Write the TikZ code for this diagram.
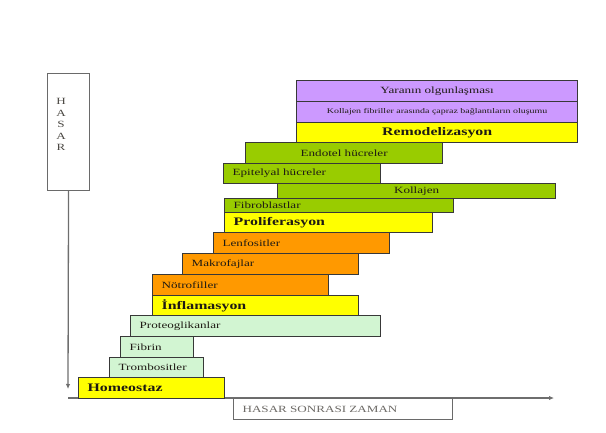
\documentclass[tikz,border=0pt]{standalone}
\usepackage{fontspec}
\setmainfont{Liberation Serif}[FakeStretch=1.38]
\usepackage{xcolor}
\definecolor{ink}{HTML}{1E1A14}
\definecolor{edge}{HTML}{383838}
\definecolor{frame}{HTML}{6A6A6A}
\definecolor{axisgray}{HTML}{6E6E6E}
\definecolor{phase}{HTML}{FFFF00}
\definecolor{leaf}{HTML}{99CC00}
\definecolor{amber}{HTML}{FF9900}
\definecolor{mint}{HTML}{D2F5D2}
\definecolor{lilac}{HTML}{CC99FF}
\usetikzlibrary{arrows.meta}
\tikzset{
  bar/.style={draw=edge, line width=1.3pt, fill=#1, anchor=north west, inner ysep=0pt,
    minimum height=21pt, text=ink, font=\fontsize{9.5}{10}\selectfont},
  lbar/.style args={#1/#2}{bar=#1, text width=#2, align=left, inner xsep=9pt},
  cbar/.style args={#1/#2}{bar=#1, minimum width=#2, align=center, inner xsep=2pt},
  stage/.style={font=\fontsize{11.5}{12}\selectfont\bfseries},
  frame/.style={draw=frame, line width=1.1pt, fill=white, anchor=north west, inner sep=0pt},
  axis/.style={draw=axisgray, line width=1.3pt, -{Latex[length=5pt, width=4.5pt, fill=black!80]}},
}
\begin{document}
\begin{tikzpicture}[x=1pt, y=-1pt]
  \useasboundingbox (0,0) rectangle (606,433);
  % axes
  \node[frame, minimum width=42pt, minimum height=117pt] (hasar) at (47,73) {};
  \node[text=ink!80, align=center, font=\fontsize{9.5}{11.5}\selectfont, anchor=north]
    (hasartxt) at (61,95) {H\\A\\S\\A\\R};
  \coordinate (yend) at (68,389);
  \coordinate (origin) at (68,398);
  \coordinate (xend) at (554,398);
  \draw[axis] (hasar.south) -- (yend);
  \draw[axis] (origin) -- (xend);
  \node[frame, minimum width=219pt, minimum height=21pt, text=ink!65,
    font=\fontsize{9.5}{10}\selectfont, align=left, text width=201pt, inner xsep=9pt]
    (zaman) at (233,398) {HASAR SONRASI ZAMAN};
  % homeostaz
  \node[lbar=phase/128pt, stage] (homeo) at (78,377) {Homeostaz};
  \node[lbar=mint/76pt, minimum height=20pt] (tromb) at (109,357) {Trombositler};
  \node[lbar=mint/55pt] (fibrin) at (120,336) {Fibrin};
  \node[lbar=mint/232pt] (proteo) at (130,315) {Proteoglikanlar};
  % inflamasyon
  \node[lbar=phase/188pt, stage, minimum height=20pt] (infl) at (152,295) {İnflamasyon};
  \node[lbar=amber/158pt] (notro) at (152,274) {Nötrofiller};
  \node[lbar=amber/158pt] (makro) at (182,253) {Makrofajlar};
  \node[lbar=amber/158pt] (lenfo) at (213,232) {Lenfositler};
  % proliferasyon
  \node[lbar=phase/190pt, stage, minimum height=20pt] (proli) at (224,212) {Proliferasyon};
  \node[lbar=leaf/211pt, minimum height=14pt] (fibro) at (224,198) {Fibroblastlar};
  \node[cbar=leaf/278pt, minimum height=15pt] (kolla) at (277,183) {Kollajen};
  \node[lbar=leaf/139pt, minimum height=20pt] (epit) at (223,163) {Epitelyal hücreler};
  \node[cbar=leaf/197pt] (endo) at (245,142) {Endotel hücreler};
  % remodelizasyon
  \node[cbar=phase/281pt, stage, minimum height=20pt] (remo) at (296,122) {Remodelizasyon};
  \node[cbar=lilac/281pt, font=\fontsize{7.2}{8}\selectfont] (kfib) at (296,101)
    {Kollajen fibriller arasında çapraz bağlantıların oluşumu};
  \node[cbar=lilac/281pt] (yara) at (296,80) {Yaranın olgunlaşması};
\end{tikzpicture}
\end{document}
